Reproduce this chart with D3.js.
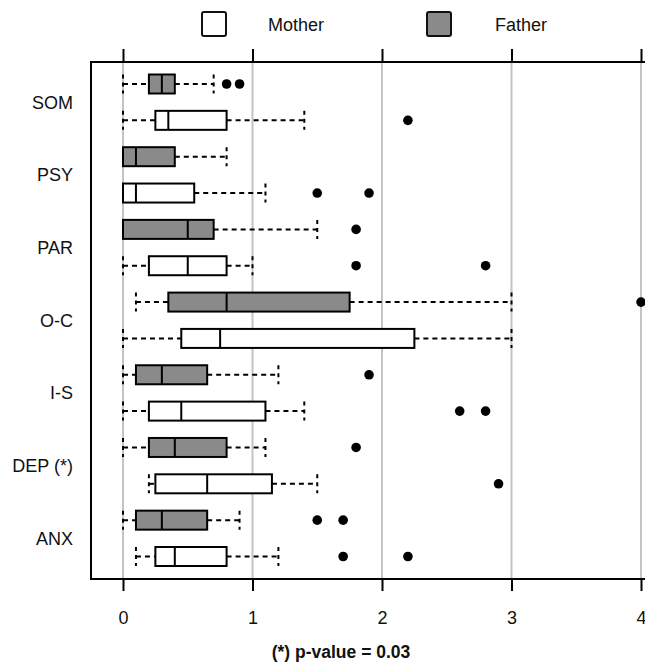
<!DOCTYPE html>
<html>
<head>
<meta charset="utf-8">
<script src="https://cdn.jsdelivr.net/npm/d3@7"></script>
<style>
body{margin:0;background:#fff}
svg{display:block;font-family:"Liberation Sans",Arial,sans-serif}
</style>
</head>
<body>
<svg width="645" height="663"></svg>
<script>
// scales for each subscale, father row drawn above mother row
const cats=["SOM","PSY","PAR","O-C","I-S","DEP (*)","ANX"]
const groups=["Father","Mother"]
const xTicks=[0,1,2,3,4]

const fatherLo=[0,0,0,0.1,0,0,0]
const fatherQ1=[0.2,0,0,0.35,0.1,0.2,0.1]
const fatherMed=[0.3,0.1,0.5,0.8,0.3,0.4,0.3]
const fatherQ3=[0.4,0.4,0.7,1.75,0.65,0.8,0.65]
const fatherHi=[0.7,0.8,1.5,3.0,1.2,1.1,0.9]
const fatherOut=[[0.8,0.9],[],[1.8],[4.0],[1.9],[1.8],[1.5,1.7]]

const motherLo=[0,0,0,0,0,0.2,0.1]
const motherQ1=[0.25,0,0.2,0.45,0.2,0.25,0.25]
const motherMed=[0.35,0.1,0.5,0.75,0.45,0.65,0.4]
const motherQ3=[0.8,0.55,0.8,2.25,1.1,1.15,0.8]
const motherHi=[1.4,1.1,1.0,3.0,1.4,1.5,1.2]
const motherOut=[[2.2],[1.5,1.9],[1.8,2.8],[],[2.6,2.8],[2.9],[1.7,2.2]]

const fill={Father:"#8a8a8a",Mother:"#fff"}

const rows=[]
cats.forEach((c,i)=>{
rows.push({cat:c,g:"Father",key:c+"|F",lo:fatherLo[i],q1:fatherQ1[i],med:fatherMed[i],q3:fatherQ3[i],hi:fatherHi[i],out:fatherOut[i]})
rows.push({cat:c,g:"Mother",key:c+"|M",lo:motherLo[i],q1:motherQ1[i],med:motherMed[i],q3:motherQ3[i],hi:motherHi[i],out:motherOut[i]})
})

const svg=d3.select("svg")
const yTop=62,yBot=579,xLeft=91
const x=d3.scaleLinear().domain([0,4]).range([123,641])
const y=d3.scalePoint().domain(rows.map(d=>d.key)).range([84,556.5])
const bh=19

// grid
svg.append("g").selectAll("line").data(xTicks).join("line")
.attr("x1",d=>x(d)).attr("x2",d=>x(d)).attr("y1",yTop).attr("y2",yBot)
.attr("stroke","#c4c4c4").attr("stroke-width",2)

// axes
const ax=svg.append("g").attr("transform",`translate(0,${yBot})`)
.call(d3.axisBottom(x).tickValues(xTicks).tickSize(12).tickPadding(20).tickFormat(d3.format("d")))
ax.select(".domain").remove()
ax.selectAll("line").attr("stroke","#000").attr("stroke-width",2)
ax.selectAll("text").attr("font-size",18).attr("font-family","Liberation Sans, Arial, sans-serif").attr("fill","#111")
const axt=svg.append("g").attr("transform",`translate(0,${yTop})`)
.call(d3.axisTop(x).tickValues(xTicks).tickSize(13).tickFormat(""))
axt.select(".domain").remove()
axt.selectAll("line").attr("stroke","#000").attr("stroke-width",2)

// frame
svg.append("rect").attr("x",xLeft).attr("y",yTop).attr("width",620).attr("height",yBot-yTop)
.attr("fill","none").attr("stroke","#000").attr("stroke-width",2)

const dash="5,4"
const b=svg.append("g").selectAll("g").data(rows).join("g")
.attr("transform",d=>`translate(0,${y(d.key)})`)
// whiskers
b.append("line").attr("x1",d=>x(d.lo)).attr("x2",d=>x(d.q1))
.attr("stroke","#000").attr("stroke-width",2).attr("stroke-dasharray",dash)
b.append("line").attr("x1",d=>x(d.q3)).attr("x2",d=>x(d.hi))
.attr("stroke","#000").attr("stroke-width",2).attr("stroke-dasharray",dash)
// caps
b.selectAll(".cap").data(d=>[d.lo,d.hi]).join("line").attr("class","cap")
.attr("x1",d=>x(d)).attr("x2",d=>x(d)).attr("y1",-bh/2).attr("y2",bh/2)
.attr("stroke","#000").attr("stroke-width",2).attr("stroke-dasharray","4,4")
// box
b.append("rect").attr("x",d=>x(d.q1)).attr("y",-bh/2).attr("width",d=>x(d.q3)-x(d.q1)).attr("height",bh)
.attr("fill",d=>fill[d.g]).attr("stroke","#000").attr("stroke-width",2)
b.append("line").attr("x1",d=>x(d.med)).attr("x2",d=>x(d.med)).attr("y1",-bh/2).attr("y2",bh/2)
.attr("stroke","#000").attr("stroke-width",2)
// outliers
b.selectAll("circle").data(d=>d.out).join("circle")
.attr("cx",d=>x(d)).attr("cy",0).attr("r",4.8).attr("fill","#000")

// category labels between the two rows
svg.append("g").selectAll("text").data(cats).join("text")
.attr("x",73).attr("y",d=>(y(d+"|F")+y(d+"|M"))/2+6.5)
.attr("text-anchor","end").attr("font-size",18).attr("fill","#111").text(d=>d)

// legend
const leg=[{g:"Mother",sx:202,tx:268},{g:"Father",sx:427,tx:495}]
const lg=svg.append("g").selectAll("g").data(leg).join("g")
lg.append("rect").attr("x",d=>d.sx).attr("y",12).attr("width",24).attr("height",24).attr("rx",2)
.attr("fill",d=>fill[d.g]).attr("stroke","#111").attr("stroke-width",2)
lg.append("text").attr("x",d=>d.tx).attr("y",30.5).attr("font-size",18).attr("fill","#111").text(d=>d.g)

svg.append("text").attr("x",341).attr("y",658).attr("text-anchor","middle")
.attr("font-size",17.5).attr("font-weight","bold").attr("fill","#111").text("(*) p-value = 0.03")
</script>
</body>
</html>
